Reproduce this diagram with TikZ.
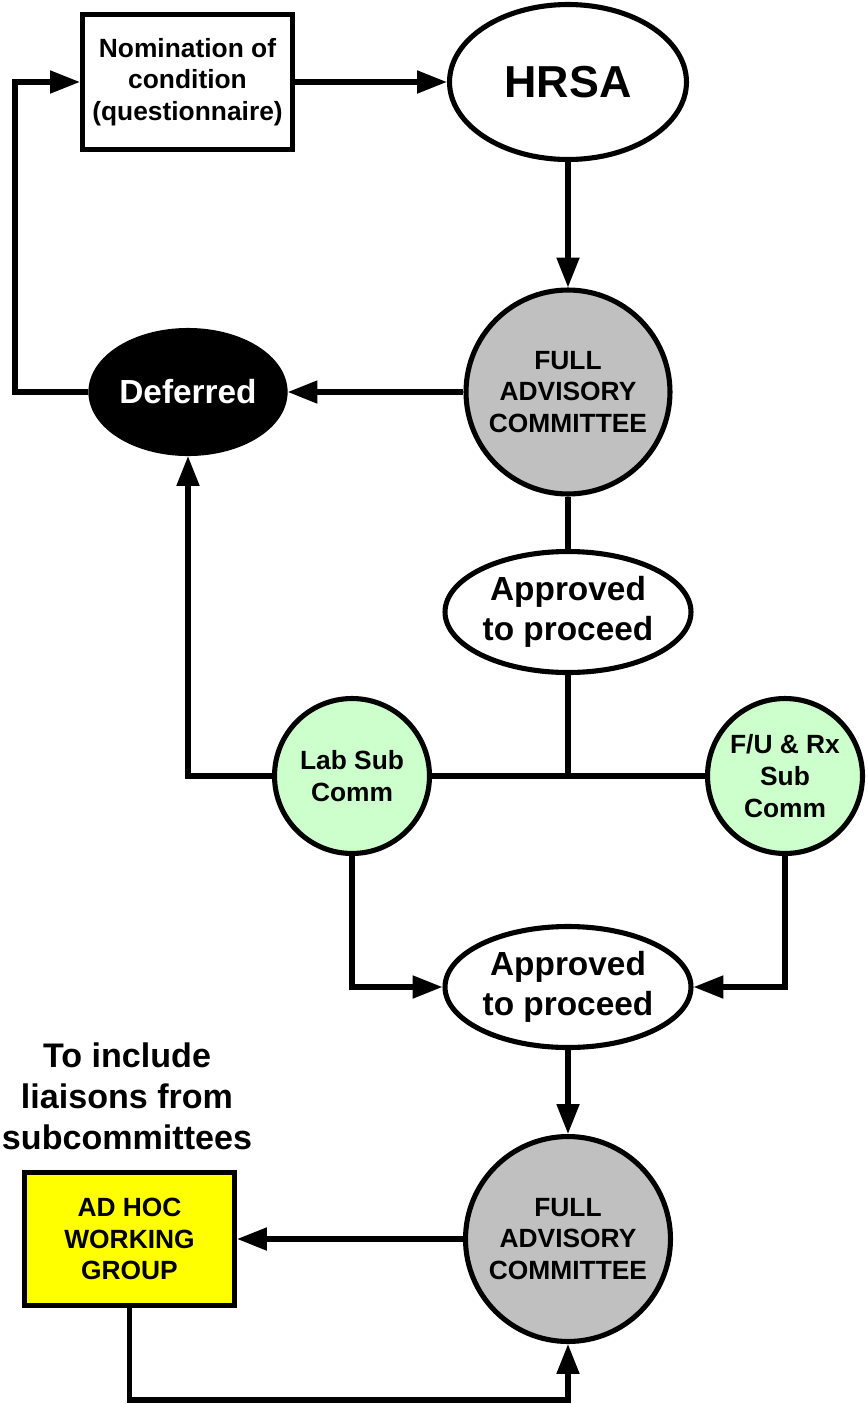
\documentclass[tikz,border=0pt]{standalone}
\usepackage{fontspec}
\setmainfont{Liberation Sans}
\usepackage{tikz}
\usetikzlibrary{arrows.meta,positioning,shapes.geometric}
\usepackage{xcolor}
\newcommand{\smallText}{\fontsize{15pt}{18pt}\selectfont}
\newcommand{\bigText}{\fontsize{19pt}{22.4pt}\selectfont}
\definecolor{PanelGray}{RGB}{192,192,192}
\definecolor{SubGreen}{RGB}{204,255,204}
\definecolor{AdHocYellow}{RGB}{255,255,0}

\begin{document}
\begin{tikzpicture}[x=0.02cm,y=-0.02cm,line width=2.9pt,
    box/.style={draw,rectangle,inner sep=0pt,align=center,font=\bfseries\smallText},
    oval/.style={draw,ellipse,inner sep=0pt,align=center,fill=white,font=\bfseries\bigText},
    round/.style={draw,circle,inner sep=0pt,align=center,font=\bfseries\smallText},
    arr/.style={-{Triangle[length=17pt,width=12.5pt]}}]
    \useasboundingbox (0,0) rectangle (867,1404);
    \node[box,fill=white,minimum width=4.2cm,minimum height=2.7cm] (nomination) at (187.5,82) {Nomination of\\condition\\(questionnaire)};
    \node[oval,minimum width=4.74cm,minimum height=3.1cm,font=\bfseries\fontsize{25.5pt}{30pt}\selectfont] (hrsa) at (568,82) {HRSA};
    \node[oval,fill=black,text=white,minimum width=3.7cm,minimum height=2.46cm] (deferred) at (188,392) {Deferred};
    \node[round,fill=PanelGray,minimum size=4.08cm] (full1) at (568,392) {FULL\\ADVISORY\\COMMITTEE};
    \node[oval,minimum width=4.92cm,minimum height=2.42cm] (approved1) at (568,612) {Approved\\to proceed};
    \node[round,fill=SubGreen,minimum size=3.1cm] (lab) at (352,776) {Lab Sub\\Comm};
    \node[round,fill=SubGreen,minimum size=3.1cm] (fu) at (785,776) {F/U \& Rx\\Sub\\Comm};
    \node[oval,minimum width=4.92cm,minimum height=2.42cm] (approved2) at (568,987) {Approved\\to proceed};
    \node[round,fill=PanelGray,minimum size=4.1cm] (full2) at (568,1239) {FULL\\ADVISORY\\COMMITTEE};
    \node[box,fill=AdHocYellow,minimum width=4.2cm,minimum height=2.66cm] (adhoc) at (129.5,1239) {AD HOC\\WORKING\\GROUP};
    \node[inner sep=0pt,align=center,font=\bfseries\fontsize{19.4pt}{23.3pt}\selectfont] (liaisons) at (127,1096) {To include\\liaisons from\\subcommittees};
    % helper points for the loops
    \coordinate (loopLeft) at (15,230);
    \coordinate (junction) at (568,776);
    \coordinate (loopBase) at (350,1400);
    \draw[arr] (nomination) -- (hrsa);
    \draw[arr] (hrsa) -- (full1);
    \draw[arr] (full1) -- (deferred);
    \draw[arr] (deferred.west) -| (loopLeft) |- (nomination.west);
    \draw (full1) -- (approved1);
    \draw (approved1) -- (junction);
    \draw (lab) -- (fu);
    \draw[arr] (lab.west) -| (deferred.south);
    \draw[arr] (lab.south) |- (approved2.west);
    \draw[arr] (fu.south) |- (approved2.east);
    \draw[arr] (approved2) -- (full2);
    \draw[arr] (full2) -- (adhoc);
    \draw[arr] (adhoc.south) |- (loopBase) -| (full2.south);
\end{tikzpicture}
\end{document}
